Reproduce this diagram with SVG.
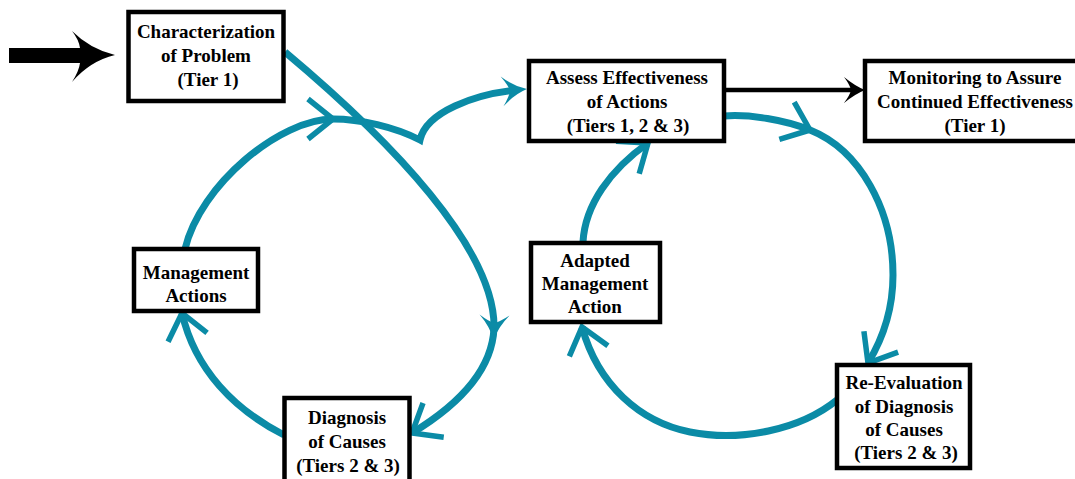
<svg xmlns="http://www.w3.org/2000/svg" width="1075" height="479" viewBox="0 0 1075 479">
<style>
.box{fill:#fff;stroke:#000;stroke-width:4.5}
.lbl{font-family:"Liberation Serif","Times New Roman",serif;font-weight:bold;font-size:19px;fill:#000;text-anchor:middle}
.teal{fill:none;stroke:#0b8ba6;stroke-width:7}
</style>
<defs>
<marker id="chev" markerUnits="userSpaceOnUse" orient="auto" overflow="visible" markerWidth="1" markerHeight="1" refX="0" refY="0">
<path d="M-25,-20 L0,0 L-25,20" fill="none" stroke="#0b8ba6" stroke-width="5.5"/>
</marker>
<marker id="head" markerUnits="userSpaceOnUse" orient="auto" overflow="visible" markerWidth="1" markerHeight="1" refX="0" refY="0">
<path d="M10,0 Q-3,-4 -15,-15 Q-8,-5 -7,0 Q-8,5 -15,15 Q-3,4 10,0 Z" fill="#0b8ba6"/>
</marker>
<marker id="bhead" markerUnits="userSpaceOnUse" orient="auto" overflow="visible" markerWidth="1" markerHeight="1" refX="0" refY="0">
<path d="M6,0 Q-4,-4 -15,-13 Q-9,-5 -8,0 Q-9,5 -15,13 Q-4,4 6,0 Z" fill="#000"/>
</marker>
</defs>
<g id="connectors">
<path d="M9,48 L80,48 Q79,40 72,31 Q90,49 115,55 Q90,61 72,82 Q79,71 80,63 L9,63 Z" fill="#000"/>
<line x1="724" y1="90" x2="859" y2="90" stroke="#000" stroke-width="4.5" marker-end="url(#bhead)"/>
<path class="teal" d="M285,52 C390,140 497,250 494,330" marker-end="url(#head)"/>
<path class="teal" d="M494,328 C492,375 450,410 412,433" marker-end="url(#chev)"/>
<path class="teal" d="M284,435 C235,410 195,370 182,313" marker-end="url(#chev)"/>
<path class="teal" d="M185,249 C200,185 280,119 333,119" marker-end="url(#chev)"/>
<path class="teal" d="M333,119 C360,119 395,127 420,140 C426,112 475,94 517,90" marker-end="url(#head)"/>
<path class="teal" d="M583,242 C585,205 610,170 648,143" marker-end="url(#chev)"/>
<path class="teal" d="M724,116 C750,114 785,120 810,130" marker-end="url(#chev)"/>
<path class="teal" d="M810,130 C860,150 893,210 893,275 C893,310 882,340 868,363" marker-end="url(#chev)"/>
<path class="teal" d="M837,400 C800,430 740,442 690,432 C640,422 598,385 582,327" marker-end="url(#chev)"/>
</g>
<g id="n-characterization">
<rect class="box" x="128.5" y="12" width="155" height="89"/>
<text class="lbl" x="206" y="38">Characterization</text>
<text class="lbl" x="206" y="62">of Problem</text>
<text class="lbl" x="208" y="86">(Tier 1)</text>
</g>
<g id="n-assess">
<rect class="box" x="529" y="61" width="195" height="80"/>
<text class="lbl" x="627" y="84">Assess Effectiveness</text>
<text class="lbl" x="627" y="108">of Actions</text>
<text class="lbl" x="628" y="132">(Tiers 1, 2 &amp; 3)</text>
</g>
<g id="n-monitoring">
<rect class="box" x="865" y="61" width="230" height="80"/>
<text class="lbl" x="975" y="84">Monitoring to Assure</text>
<text class="lbl" x="975" y="108">Continued Effectiveness</text>
<text class="lbl" x="975" y="132">(Tier 1)</text>
</g>
<g id="n-management">
<rect class="box" x="134" y="249" width="124" height="62"/>
<text class="lbl" x="196" y="279">Management</text>
<text class="lbl" x="196" y="302">Actions</text>
</g>
<g id="n-diagnosis">
<rect class="box" x="284.5" y="398" width="125" height="90"/>
<text class="lbl" x="347" y="424">Diagnosis</text>
<text class="lbl" x="347" y="448">of Causes</text>
<text class="lbl" x="348" y="472">(Tiers 2 &amp; 3)</text>
</g>
<g id="n-adapted">
<rect class="box" x="531" y="243" width="129" height="79"/>
<text class="lbl" x="595" y="267">Adapted</text>
<text class="lbl" x="595" y="290">Management</text>
<text class="lbl" x="595" y="313">Action</text>
</g>
<g id="n-reevaluation">
<rect class="box" x="837" y="365" width="133" height="103"/>
<text class="lbl" x="904" y="389">Re-Evaluation</text>
<text class="lbl" x="904" y="413">of Diagnosis</text>
<text class="lbl" x="904" y="436">of Causes</text>
<text class="lbl" x="906" y="459">(Tiers 2 &amp; 3)</text>
</g>
</svg>
